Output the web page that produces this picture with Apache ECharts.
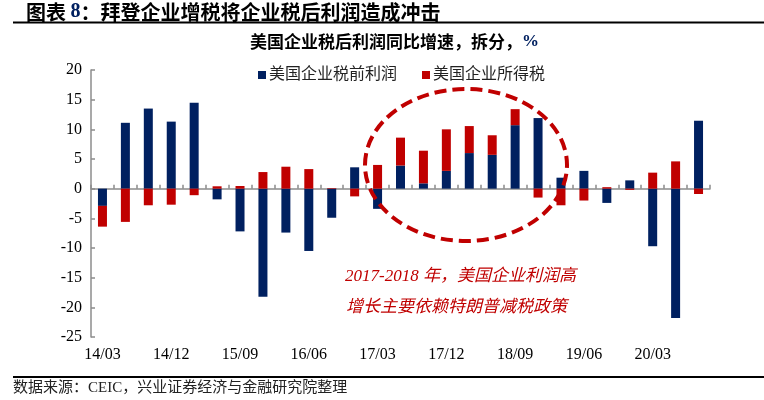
<!DOCTYPE html>
<html>
<head>
<meta charset="utf-8">
<script src="https://cdn.jsdelivr.net/npm/echarts@6/dist/echarts.min.js"></script>
<style>
html,body{margin:0;padding:0;background:#fff;}
#main{width:764px;height:400px;}
</style>
</head>
<body>
<div id="main"></div>
<script>
// Quarter labels
var categories = ['14/03','14/06','14/09','14/12','15/03','15/06','15/09','15/12',
  '16/03','16/06','16/09','16/12','17/03','17/06','17/09','17/12',
  '18/03','18/06','18/09','18/12','19/03','19/06','19/09','19/12',
  '20/03','20/06','20/09'];
// 美国企业税前利润 contribution (%)
var pretaxProfit = [-2.9, 11.1, 13.5, 11.3, 14.5, -1.8, -7.2, -18.2, -7.4, -10.5, -4.9, 3.6,
  -3.4, 3.9, 0.9, 3.0, 6.0, 5.7, 10.7, 11.9, 1.85, 3.0, -2.4, 1.4, -9.7, -21.8, 11.45];
// 美国企业所得税 contribution (%)
var incomeTax = [-3.5, -5.6, -2.8, -2.7, -1.1, 0.4, 0.45, 2.8, 3.7, 3.3, 0.1, -1.3,
  4.0, 4.7, 5.5, 7.0, 4.55, 3.3, 2.7, -1.5, -2.8, -2.0, 0.25, -0.2, 2.7, 4.6, -0.9];
var seriesNames = ['美国企业税前利润', '美国企业所得税'];
var yTicks = {min: -25, max: 20, interval: 5};

var navy = '#002060', red = '#C00000', axisGray = '#8c8c8c';
var cjk = '"Liberation Serif","Noto Sans CJK SC",serif';

var chart = echarts.init(document.getElementById('main'), null, {renderer: 'canvas'});
chart.setOption({
  animation: false,
  backgroundColor: '#fff',
  grid: {left: 91, right: 54, top: 70, bottom: 63, containLabel: false, outerBoundsMode: 'none'},
  legend: {
    show: true,
    left: 258, top: 67, padding: 0,
    itemWidth: 8, itemHeight: 8, itemGap: 25,
    icon: 'rect',
    textStyle: {fontSize: 16, color: '#222', fontFamily: cjk, padding: [0,0,0,-2]},
    data: seriesNames
  },
  xAxis: [{
    type: 'category',
    data: categories,
    axisLine: {onZero: true, lineStyle: {color: axisGray, width: 1.5}},
    axisTick: {show: true, inside: true, length: 4, interval: 0, lineStyle: {color: axisGray, width: 1.5}},
    axisLabel: {show: false},
    splitLine: {show: false}
  }, {
    type: 'category',
    data: categories,
    position: 'bottom',
    axisLine: {show: false, onZero: false},
    axisTick: {show: false},
    axisLabel: {show: true, interval: 2, margin: 10, fontSize: 16, color: '#000', fontFamily: '"Liberation Serif",serif'},
    splitLine: {show: false}
  }],
  yAxis: {
    type: 'value',
    min: yTicks.min, max: yTicks.max, interval: yTicks.interval,
    axisLine: {show: true, lineStyle: {color: axisGray, width: 1.5}},
    axisTick: {show: true, inside: true, length: 4, lineStyle: {color: axisGray, width: 1.5}},
    axisLabel: {fontSize: 16, color: '#000', margin: 9, fontFamily: '"Liberation Serif",serif'},
    splitLine: {show: false}
  },
  series: [{
    name: seriesNames[0], type: 'bar', stack: 'total', xAxisIndex: 0,
    barWidth: 9, itemStyle: {color: navy}, data: pretaxProfit
  }, {
    name: seriesNames[1], type: 'bar', stack: 'total', xAxisIndex: 0,
    barWidth: 9, itemStyle: {color: red}, data: incomeTax
  }],
  graphic: [
    {type: 'text', left: 26, top: 2, style: {
      text: '图表 {n|8}：拜登企业增税将企业税后利润造成冲击',
      font: 'bold 20px "Noto Sans CJK SC",sans-serif', fill: '#000',
      rich: {n: {font: 'bold 20px "Liberation Serif",serif', fill: navy}}
    }},
    {type: 'line', shape: {x1: 13, y1: 22.5, x2: 764, y2: 22.5}, style: {stroke: '#000', lineWidth: 2}},
    {type: 'text', left: 250, top: 33, style: {
      text: '美国企业税后利润同比增速，拆分，{p|%}',
      font: 'bold 17px "Noto Sans CJK SC",sans-serif', fill: '#000',
      rich: {p: {font: 'bold 17px "Liberation Serif",serif', fill: navy}}
    }},
    {type: 'ellipse', shape: {cx: 466, cy: 165, rx: 101, ry: 76}, z: 100,
      style: {fill: 'none', stroke: red, lineWidth: 4, lineDash: [12, 6]}},
    {type: 'text', left: 345, top: 268, z: 100, style: {
      text: '2017-2018 年，美国企业利润高',
      font: 'italic 17px "Liberation Serif","Noto Sans CJK SC",serif', fill: red
    }},
    {type: 'text', left: 346, top: 299, z: 100, style: {
      text: '增长主要依赖特朗普减税政策',
      font: 'italic 17px "Liberation Serif","Noto Sans CJK SC",serif', fill: red
    }},
    {type: 'line', shape: {x1: 13, y1: 377, x2: 764, y2: 377}, style: {stroke: '#000', lineWidth: 2}},
    {type: 'text', left: 13, top: 381, style: {
      text: '数据来源：CEIC，兴业证券经济与金融研究院整理',
      font: '15px "Liberation Serif","Noto Sans CJK SC",serif', fill: '#222'
    }}
  ]
});
</script>
</body>
</html>
